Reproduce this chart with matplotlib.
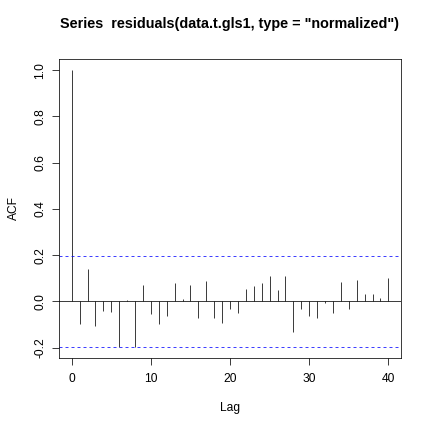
import matplotlib
matplotlib.use("Agg")
import matplotlib.pyplot as plt
import numpy as np

plt.rcParams['font.family'] = ['Liberation Sans', 'DejaVu Sans']

lags = list(range(0, 41))
acf_values = [1.0, -0.099, 0.140, -0.106, -0.040, -0.044, -0.196, 0.006, -0.196, 0.072,
              -0.053, -0.097, -0.065, 0.078, 0.012, 0.072, -0.072, 0.090, -0.072, -0.093,
              -0.031, -0.049, 0.054, 0.065, 0.079, 0.110, 0.049, 0.110, -0.132, -0.035,
              -0.062, -0.071, -0.006, -0.049, 0.084, -0.034, 0.093, 0.031, 0.031, 0.016,
              0.100]
conf_limit = 0.197
title = 'Series  residuals(data.t.gls1, type = "normalized")'
x_ticks = [0, 10, 20, 30, 40]
y_ticks = [-0.2, 0.0, 0.2, 0.4, 0.6, 0.8, 1.0]

W = 432
fig = plt.figure(figsize=(6, 6), dpi=72)
ax = fig.add_axes([59 / W, (W - 358) / W, (401 - 59) / W, (358 - 59) / W])

lw = 0.75
ax.vlines(lags, 0, acf_values, color='black', linewidth=lw)
ax.axhline(0, color='black', linewidth=lw)
for c in (conf_limit, -conf_limit):
    ax.axhline(c, color='blue', linewidth=lw, linestyle=(0, (4, 4)))

ymin = min(-conf_limit, min(acf_values))
ymax = max(conf_limit, max(acf_values))
yr = ymax - ymin
ax.set_ylim(ymin - 0.04 * yr, ymax + 0.04 * yr)
ax.set_xlim(-0.04 * 40, 40 + 0.04 * 40)

ax.set_xticks(x_ticks)
ax.set_xticklabels([str(t) for t in x_ticks], fontsize=12)
ax.set_yticks(y_ticks)
ax.set_yticklabels([f"{t:.1f}" for t in y_ticks], rotation=90, va='center', fontsize=12)

for s in ax.spines.values():
    s.set_linewidth(lw)
    s.set_color('black')
ax.tick_params(axis='both', direction='out', length=7, width=lw, labelsize=12, colors='black')
ax.tick_params(axis='x', pad=8)
ax.tick_params(axis='y', pad=6)

ax.set_xlabel('Lag', fontsize=12, labelpad=16.5)
ax.set_ylabel('ACF', fontsize=12, labelpad=14)

fig.text((59 + 401) / 2 / W, 1 - 24 / W, title, ha='center', va='center',
         fontsize=14.4, fontweight='bold')

fig.savefig('out.png', dpi=72)
